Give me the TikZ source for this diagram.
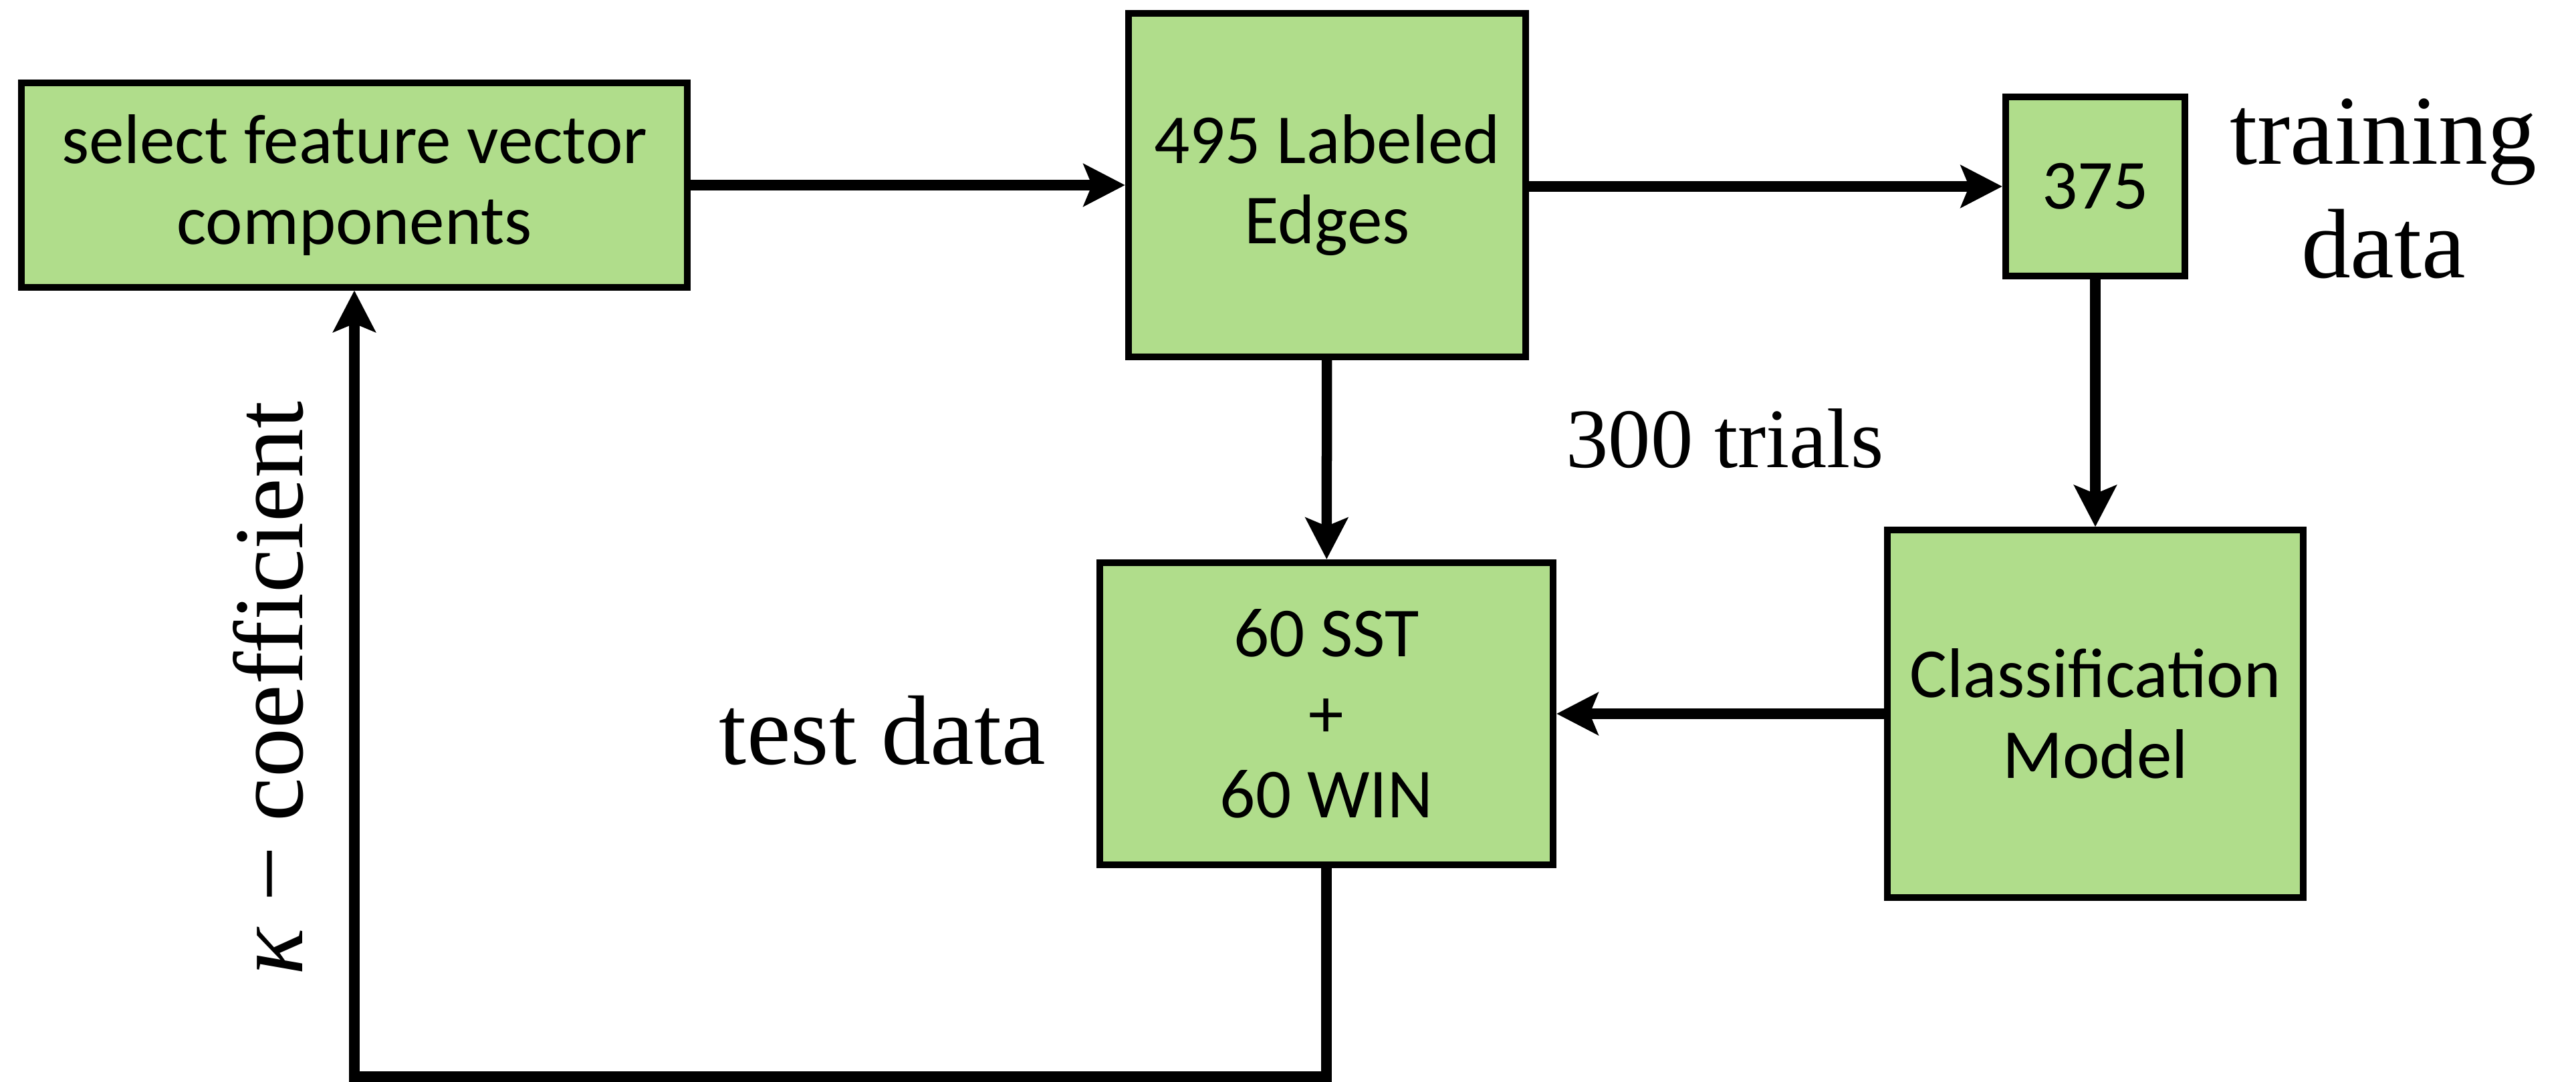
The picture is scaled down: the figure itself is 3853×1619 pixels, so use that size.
\documentclass[tikz,border=0pt]{standalone}
\usepackage{fontspec}
\setmainfont{Liberation Serif}
\newfontfamily\boxfont{Carlito}
\usetikzlibrary{arrows.meta}
\usetikzlibrary{positioning}
\definecolor{boxgreen}{RGB}{176,221,139}
\tikzset{
    box/.style={
        draw,
        fill=boxgreen,
        line width=0.1cm,
        align=center,
        inner sep=0pt,
        font=\boxfont\fontsize{29.9pt}{34.3pt}\selectfont
    },
    link/.style={
        draw,
        line width=0.155cm,
        -{Stealth[length=0.62cm, width=0.63cm, inset=0.125cm]}
    },
    note/.style={
        inner sep=0pt,
        align=center,
        font=\fontsize{42pt}{48.4pt}\selectfont
    }
}

\begin{document}
\begin{tikzpicture}[x=0.01cm, y=-0.01cm]
    \useasboundingbox (0,0) rectangle (3853,1619);
    % Boxes
    \node[box, minimum width=9.95cm, minimum height=3.05cm] (sel) at (530,277) {select feature vector\\components};
    \node[box, minimum width=5.94cm, minimum height=5.13cm] (lab) at (1985,277) {495 Labeled\\Edges};
    \node[box, minimum width=2.68cm, minimum height=2.67cm] (trn) at (3134,279) {375};
    \node[box, minimum width=6.78cm, minimum height=4.52cm] (tst) at (1984,1068) {60 SST\\+\\60 WIN};
    \node[box, minimum width=6.21cm, minimum height=5.49cm] (cls) at (3134,1068) {Classification\\Model};

    % Labels
    \node[note] (trnlbl) at (3565,282) {training\\data};
    \node[note, anchor=base] (tstlbl) at (1320,1143) {test data};
    \node[note, anchor=base, font=\fontsize{36pt}{40pt}\selectfont] (trials) at (2580,700) {300 trials};
    \node[note, anchor=base, rotate=90] (kappa) at (452,1030) {\textit{κ} − coefficient};

    % Arrows
    \coordinate (loop) at (1000,1611);
    \draw[link] (sel) -- (lab);
    \draw[link] (lab.east |- trn) -- (trn);
    \draw[link] (trn) -- (cls);
    \draw[link] (lab) -- (tst);
    \draw[link] (cls) -- (tst);
    \draw[link] (tst.south) |- (loop) -| (sel.south);
\end{tikzpicture}
\end{document}
